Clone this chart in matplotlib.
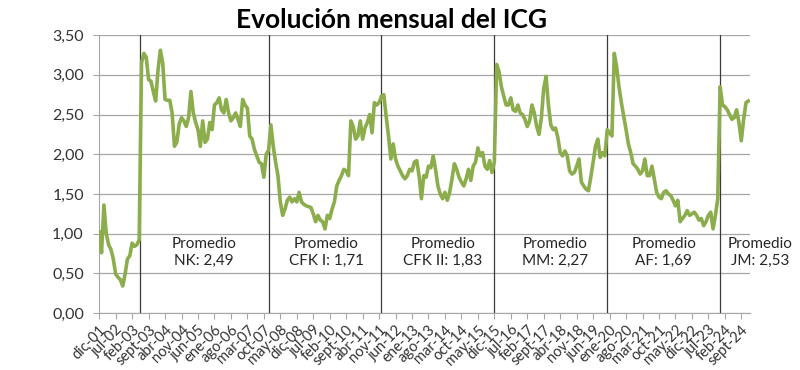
import matplotlib
matplotlib.use("Agg")
import matplotlib.pyplot as plt

plt.rcParams['font.family'] = ['Lato', 'DejaVu Sans']

# Índice de Confianza en el Gobierno, mensual, dic-01 a dic-24
icg = [
    1.02, 0.76, 1.36, 1.00, 0.86, 0.80, 0.68, 0.49, 0.45, 0.42,
    0.34, 0.49, 0.68, 0.72, 0.88, 0.84, 0.86, 0.92, 3.15, 3.27,
    3.22, 2.94, 2.92, 2.79, 2.67, 3.06, 3.31, 3.15, 2.69, 2.68,
    2.68, 2.52, 2.10, 2.15, 2.38, 2.46, 2.42, 2.35, 2.46, 2.79,
    2.52, 2.40, 2.31, 2.10, 2.42, 2.15, 2.19, 2.40, 2.31, 2.62,
    2.65, 2.71, 2.56, 2.52, 2.69, 2.52, 2.42, 2.46, 2.52, 2.44,
    2.35, 2.69, 2.62, 2.58, 2.23, 2.19, 2.06, 1.98, 1.90, 1.88,
    1.71, 2.00, 2.05, 2.37, 2.10, 1.90, 1.73, 1.40, 1.23, 1.31,
    1.42, 1.46, 1.40, 1.44, 1.40, 1.52, 1.40, 1.37, 1.35, 1.34,
    1.33, 1.25, 1.15, 1.23, 1.17, 1.15, 1.06, 1.23, 1.19, 1.31,
    1.40, 1.60, 1.67, 1.73, 1.81, 1.79, 1.73, 2.42, 2.35, 2.19,
    2.23, 2.42, 2.19, 2.33, 2.40, 2.50, 2.27, 2.65, 2.62, 2.65,
    2.73, 2.75, 2.48, 2.23, 1.94, 2.13, 1.94, 1.85, 1.79, 1.73,
    1.69, 1.73, 1.81, 1.79, 1.90, 1.92, 1.73, 1.44, 1.73, 1.71,
    1.85, 1.83, 1.98, 1.81, 1.60, 1.50, 1.44, 1.52, 1.42, 1.52,
    1.69, 1.88, 1.81, 1.71, 1.65, 1.60, 1.69, 1.81, 1.67, 1.85,
    1.90, 2.08, 1.98, 2.02, 1.85, 1.81, 1.92, 1.77, 1.90, 3.13,
    3.04, 2.85, 2.73, 2.62, 2.62, 2.71, 2.56, 2.54, 2.62, 2.52,
    2.50, 2.44, 2.35, 2.42, 2.62, 2.52, 2.35, 2.25, 2.46, 2.83,
    2.98, 2.62, 2.37, 2.31, 2.33, 2.21, 2.02, 1.98, 2.04, 1.98,
    1.79, 1.75, 1.77, 1.85, 1.94, 1.65, 1.60, 1.56, 1.54, 1.71,
    1.90, 2.10, 2.19, 1.96, 2.02, 1.98, 2.31, 2.27, 2.23, 3.27,
    3.10, 2.85, 2.65, 2.48, 2.31, 2.13, 2.02, 1.88, 1.85, 1.81,
    1.75, 1.79, 1.94, 1.73, 1.73, 1.85, 1.69, 1.52, 1.46, 1.44,
    1.52, 1.54, 1.50, 1.48, 1.42, 1.35, 1.42, 1.15, 1.19, 1.23,
    1.29, 1.23, 1.25, 1.27, 1.23, 1.17, 1.19, 1.10, 1.15, 1.23,
    1.27, 1.06, 1.23, 1.44, 2.85, 2.62, 2.60, 2.56, 2.50, 2.44,
    2.46, 2.56, 2.40, 2.17, 2.44, 2.65, 2.67,
]

# etiquetas de meses (dic-01 en adelante)
nombres_mes = ['ene', 'feb', 'mar', 'abr', 'may', 'jun',
               'jul', 'ago', 'sept', 'oct', 'nov', 'dic']
meses = ['dic-01']
for anio in range(2, 25):
    for nm in nombres_mes:
        meses.append(f'{nm}-{anio:02d}')
meses = meses[:len(icg)]

# meses donde cambia el gobierno (líneas verticales)
cambios = ['may-03', 'dic-07', 'dic-11', 'dic-15', 'dic-19', 'dic-23']

# textos de promedios por gobierno
gobiernos = ['NK', 'CFK I', 'CFK II', 'MM', 'AF', 'JM']
promedios = ['2,49', '1,71', '1,83', '2,27', '1,69', '2,53']
pos_texto = [44.5, 96.5, 146, 194, 240, 281]

fig = plt.figure(figsize=(8, 3.7), dpi=100)
ax = fig.add_axes([0.124, 0.154, 0.8135, 0.751])

x = list(range(len(icg)))
ax.plot(x, icg, color='#8BAD4C', linewidth=2.6, solid_joinstyle='round', zorder=3)

for c in cambios:
    ax.axvline(meses.index(c) + (0.4 if c == 'may-03' else 0), color='#3a3a3a', linewidth=0.9, zorder=2)

for g, p, xp in zip(gobiernos, promedios, pos_texto):
    ax.text(xp, 0.76, f'Promedio\n{g}: {p}', ha='center', va='center',
            fontsize=11, color='#262626', linespacing=1.3, clip_on=False, zorder=4)

ax.set_ylim(0, 3.5)
ax.set_xlim(0, 276.7)
yt = [0, 0.5, 1, 1.5, 2, 2.5, 3, 3.5]
ax.set_yticks(yt)
ax.set_yticklabels([f'{v:.2f}'.replace('.', ',') for v in yt], fontsize=11.5, color='#333333')
ax.yaxis.grid(True, color='#a6a6a6', linewidth=0.9)
ax.set_axisbelow(True)

ax.set_xticks(x[::7])
ax.set_xticklabels(meses[::7], rotation=45, ha='right', rotation_mode='anchor',
                   fontsize=10.5, color='#333333')
ax.tick_params(axis='x', length=4, color='#a6a6a6', pad=3)
ax.tick_params(axis='y', length=4, color='#a6a6a6', pad=7)

for s in ['top', 'right']:
    ax.spines[s].set_visible(False)
ax.spines['left'].set_color('#a6a6a6')
ax.spines['bottom'].set_color('#a6a6a6')

fig.text(0.49, 0.945, 'Evolución mensual del ICG', ha='center', va='center',
         fontsize=19, fontweight='bold', color='black')

fig.savefig('out.png', dpi=100)
